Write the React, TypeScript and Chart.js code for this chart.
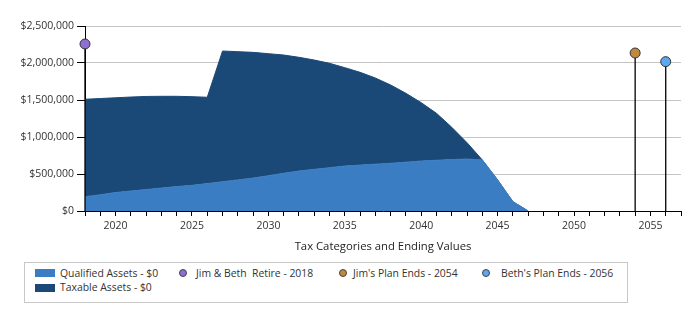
import React, { useEffect, useRef } from "react";
import { Chart, registerables } from "chart.js";

Chart.register(...registerables);

const years = [2018, 2019, 2020, 2021, 2022, 2023, 2024, 2025, 2026, 2027, 2028, 2029, 2030, 2031, 2032, 2033, 2034, 2035, 2036, 2037, 2038, 2039, 2040, 2041, 2042, 2043, 2044, 2045, 2046, 2047];
const qualified = [193000, 220000, 250000, 270000, 290000, 310000, 330000, 347000, 370000, 396000, 420000, 445000, 477000, 510000, 540000, 563000, 585000, 608000, 620000, 633000, 645000, 660000, 676000, 686000, 695000, 703000, 690000, 420000, 126000, 0];
const taxable = [1317000, 1300000, 1280000, 1270000, 1258000, 1240000, 1220000, 1198000, 1167000, 1766000, 1733000, 1699000, 1649000, 1598000, 1537000, 1477000, 1411000, 1329000, 1254000, 1164000, 1058000, 930000, 788000, 634000, 436000, 220000, 0, 0, 0, 0];

const markerLabels = ["Jim & Beth  Retire - 2018", "Jim's Plan Ends - 2054", "Beth's Plan Ends - 2056"];
const markerYears = [2018, 2054, 2056];
const markerValues = [2257000, 2135000, 2018000];
const markerColors = ["#8f6fd3", "#c08a3e", "#5aa8f0"];

const seriesLabels = ["Qualified Assets - $0", "Taxable Assets - $0"];
const seriesColors = ["#3a7dc2", "#1a4978"];

const yTicks = [0, 500000, 1000000, 1500000, 2000000, 2500000];
const xLabelEvery = 5;
const xTitle = "Tax Categories and Ending Values";

const FONT = "'Open Sans', sans-serif";
const TEXT = "#333";

export default function App() {
  const ref = useRef<HTMLCanvasElement | null>(null);

  useEffect(() => {
    const totals = qualified.map((q, i) => q + taxable[i]);
    const markerSets = markerYears.map((yr, i) => ({
      type: "line" as const,
      label: markerLabels[i],
      data: [
        { x: yr, y: 0 },
        { x: yr, y: markerValues[i] },
      ],
      borderColor: "#000",
      borderWidth: 1.3,
      pointRadius: [0, 5],
      pointBackgroundColor: markerColors[i],
      pointBorderColor: "#333",
      pointBorderWidth: 1,
      fill: false,
      clip: false as any,
      order: 0,
    }));
    const chart = new Chart(ref.current!, {
      type: "line",
      data: {
        datasets: [
          {
            label: seriesLabels[0],
            data: years.map((x, i) => ({ x, y: qualified[i] })),
            borderColor: seriesColors[0],
            backgroundColor: seriesColors[0],
            borderWidth: 1,
            pointRadius: 0,
            tension: 0,
            fill: "origin",
            order: 1,
          },
          {
            label: seriesLabels[1],
            data: years.map((x, i) => ({ x, y: totals[i] })),
            borderColor: seriesColors[1],
            backgroundColor: seriesColors[1],
            borderWidth: 1,
            pointRadius: 0,
            tension: 0,
            fill: "-1",
            order: 2,
          },
          ...markerSets,
        ] as any,
      },
      options: {
        responsive: false,
        animation: false,
        layout: { padding: { left: 0, right: 3, top: 26, bottom: 0 } },
        plugins: { legend: { display: false }, tooltip: { enabled: false } },
        scales: {
          x: {
            type: "linear",
            min: 2018,
            max: 2057,
            afterFit: (s: any) => {
              s.height = 43;
            },
            ticks: {
              stepSize: 1,
              autoSkip: false,
              maxRotation: 0,
              padding: 4,
              color: TEXT,
              font: { family: FONT, size: 10.5 },
              callback: (v: any) => (Number(v) % xLabelEvery === 0 ? String(v) : ""),
            },
            grid: { drawOnChartArea: false, drawTicks: true, tickLength: 5, tickColor: "#000" },
            border: { color: "#000", width: 1 },
            title: {
              display: true,
              text: xTitle,
              color: "#222",
              font: { family: FONT, size: 11.3 },
              padding: { top: 0, bottom: 0 },
            },
          },
          y: {
            type: "linear",
            min: 0,
            max: 2500000,
            afterFit: (s: any) => {
              s.width = 85;
            },
            afterBuildTicks: (s: any) => {
              s.ticks = yTicks.map((v) => ({ value: v }));
            },
            ticks: {
              padding: 3,
              color: TEXT,
              font: { family: FONT, size: 10.5 },
              callback: (v: any) => "$" + Number(v).toLocaleString("en-US"),
            },
            grid: { color: "#c4c4c4", lineWidth: 1, tickLength: 8, tickColor: "#000" },
            border: { color: "#000", width: 1 },
          },
        },
      },
    });
    return () => chart.destroy();
  }, []);

  const legendText: React.CSSProperties = {
    position: "absolute",
    fontFamily: FONT,
    fontSize: 10.4,
    color: TEXT,
    lineHeight: "14px",
    whiteSpace: "pre",
  };
  const circle = (cx: number, cy: number, color: string): React.CSSProperties => ({
    position: "absolute",
    left: cx - 4,
    top: cy - 4,
    width: 8,
    height: 8,
    borderRadius: "50%",
    background: color,
    border: "1px solid #444",
    boxSizing: "border-box",
  });

  return (
    <div style={{ position: "fixed", left: 0, top: 0, width: 687, height: 331, background: "#fff" }}>
      <canvas ref={ref} width={687} height={254} style={{ position: "absolute", left: 0, top: 0 }} />
      <div
        style={{
          position: "absolute",
          left: 24,
          top: 262,
          width: 604,
          height: 41,
          border: "1px solid #c8c8c8",
          boxSizing: "border-box",
        }}
      />
      <div style={{ position: "absolute", left: 35, top: 269, width: 20, height: 8, background: seriesColors[0] }} />
      <div style={{ ...legendText, left: 60, top: 266 }}>{seriesLabels[0]}</div>
      <div style={{ position: "absolute", left: 35, top: 284, width: 20, height: 8, background: seriesColors[1] }} />
      <div style={{ ...legendText, left: 60, top: 280 }}>{seriesLabels[1]}</div>
      <div style={circle(183, 273, markerColors[0])} />
      <div style={{ ...legendText, left: 196, top: 266 }}>{markerLabels[0]}</div>
      <div style={circle(343, 273, markerColors[1])} />
      <div style={{ ...legendText, left: 353, top: 266 }}>{markerLabels[1]}</div>
      <div style={circle(486, 273, markerColors[2])} />
      <div style={{ ...legendText, left: 501, top: 266 }}>{markerLabels[2]}</div>
    </div>
  );
}
